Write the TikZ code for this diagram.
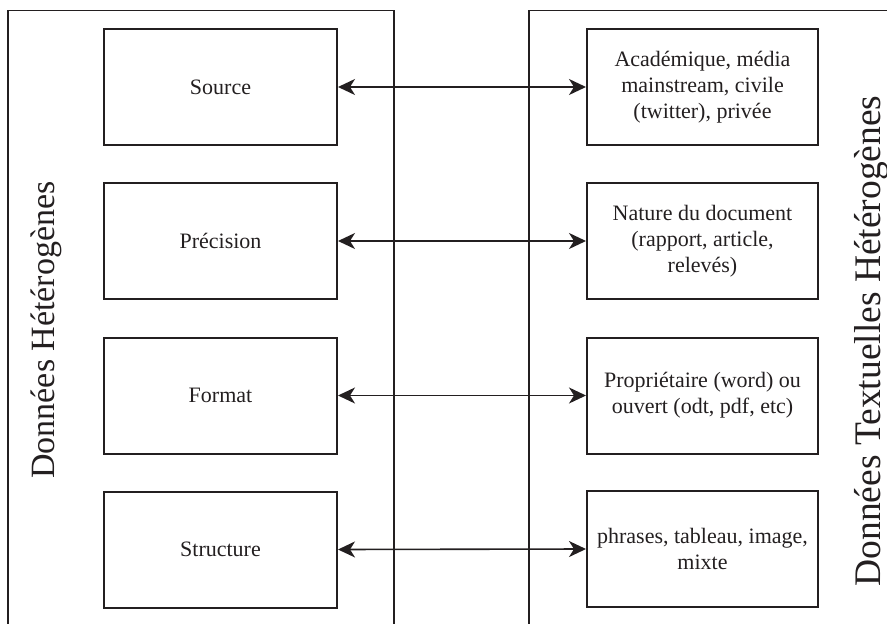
\documentclass[tikz,border=0pt]{standalone}
\usepackage{fontspec}
\setmainfont{Liberation Serif}
\usetikzlibrary{arrows.meta}
\definecolor{ink}{RGB}{35,31,32}
\begin{document}
\begin{tikzpicture}[x=1pt,y=-1pt,
  every node/.style={text=ink},
  frame/.style={draw=ink,line width=1.5pt},
  item/.style={draw=ink,line width=2pt,minimum width=233pt,minimum height=116pt,
    align=center,inner sep=2pt,font=\fontsize{22}{26}\selectfont},
  link/.style={draw=ink,line width=1.6pt,
    {Stealth[length=17pt,width=16pt,inset=5pt]}-{Stealth[length=17pt,width=16pt,inset=5pt]}},
  sidelabel/.style={rotate=90,anchor=base,font=\fontsize{34}{40}\selectfont}]
\useasboundingbox (0,0) rectangle (887,624);

% the two enclosing panels (open at the page edges)
\draw[frame] (8,640) -- (8,10.5) -- (394,10.5) -- (394,640);
\draw[frame] (529,640) -- (529,10.5) -- (900,10.5);

% panel titles
\node[sidelabel] (lefttitle) at (54,330) {Données Hétérogènes};
\node[sidelabel,font=\fontsize{37.5}{44}\selectfont] (righttitle) at (880,341) {Données Textuelles Hétérogènes};

% left column
\node[item] (src)  at (220.5,87)    {Source};
\node[item] (prec) at (220.5,241)   {Précision};
\node[item] (fmt)  at (220.5,395.5) {Format};
\node[item] (str)  at (220.5,549.5) {Structure};

% right column
\node[item,minimum width=231pt] (srcR)  at (702.5,87)    {Académique, média\\mainstream, civile\\(twitter), privée};
\node[item,minimum width=231pt] (precR) at (702.5,241)   {Nature du document\\(rapport, article,\\relevés)};
\node[item,minimum width=231pt] (fmtR)  at (702.5,395.5) {Propriétaire (word) ou\\ouvert (odt, pdf, etc)};
\node[item,minimum width=231pt] (strR)  at (702.5,549)   {phrases, tableau, image,\\mixte};

% links between the columns
\draw[link] (src.east)  -- (srcR.west);
\draw[link] (prec.east) -- (precR.west);
\draw[link] (fmt.east)  -- (fmtR.west);
\draw[link] (str.east)  -- (strR.west);
\end{tikzpicture}
\end{document}
